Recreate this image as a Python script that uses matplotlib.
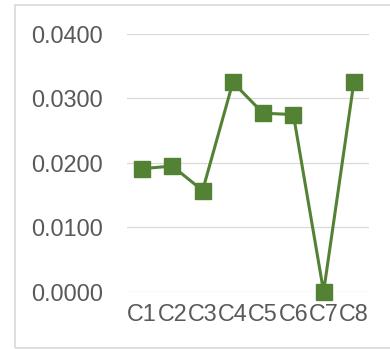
import matplotlib.pyplot as plt
from matplotlib.patches import Rectangle
from matplotlib.ticker import FormatStrFormatter

# data
categories = ["C1", "C2", "C3", "C4", "C5", "C6", "C7", "C8"]
values = [0.0191, 0.0195, 0.0157, 0.0325, 0.0277, 0.0275, 0.0000, 0.0325]
y_ticks = [0.0, 0.01, 0.02, 0.03, 0.04]

plt.rcParams['font.family'] = ['Liberation Sans', 'DejaVu Sans']

fig = plt.figure(figsize=(3.9, 3.49), dpi=100)
ax = fig.add_axes([0.3256, 0.1642, 0.6205, 0.7384])

x = list(range(len(categories)))
ax.plot(x, values, color="#548235", linewidth=2.2, marker="s",
        markersize=11, markerfacecolor="#548235", markeredgecolor="#548235",
        clip_on=False, zorder=3)

ax.set_xlim(-0.5, len(categories) - 0.5)
ax.set_ylim(0, 0.04)
ax.set_xticks(x)
ax.set_xticklabels(categories)
ax.set_yticks(y_ticks)
ax.yaxis.set_major_formatter(FormatStrFormatter("%.4f"))

ax.grid(axis="y", color="#d9d9d9", linewidth=0.9)
ax.set_axisbelow(True)
for s in ax.spines.values():
    s.set_visible(False)
ax.tick_params(axis="both", length=0, labelsize=16.8, labelcolor="#595959")
ax.tick_params(axis="y", pad=17)
ax.tick_params(axis="x", pad=8)

# chart frame
fig.patches.append(Rectangle((14.5 / 390, 1.5 / 349), 1.0, 343 / 349,
                             transform=fig.transFigure, fill=False,
                             edgecolor="#d9d9d9", linewidth=1.2))

plt.savefig("out.png", dpi=100)
